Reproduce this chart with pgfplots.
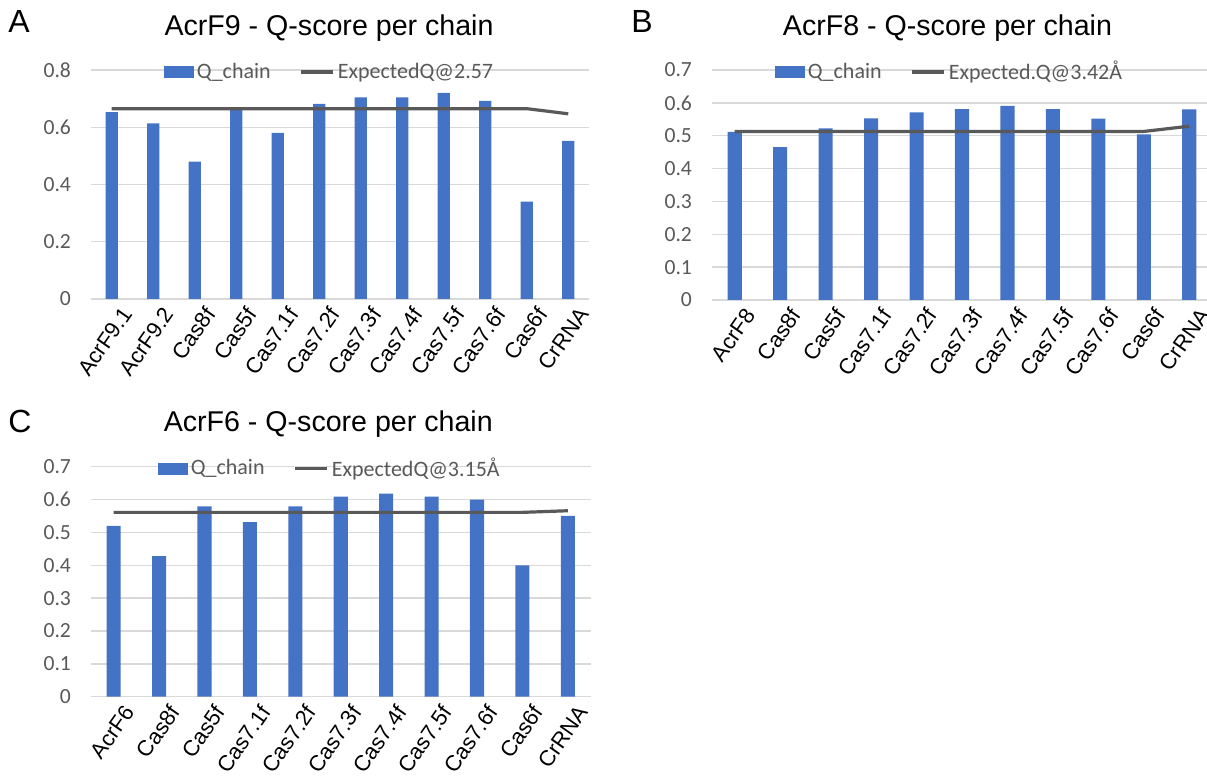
\documentclass[border=0pt]{standalone}
\usepackage{pgfplots}
\pgfplotsset{compat=1.18}
\usepackage{fontspec}
\setmainfont{Liberation Sans}
\newfontfamily\calibri{Carlito}
\definecolor{barblue}{HTML}{4472C4}
\definecolor{linegray}{HTML}{595959}
\definecolor{gridgray}{HTML}{D9D9D9}
\definecolor{tickgray}{HTML}{595959}
\pgfplotsset{
  qstyle/.style={
    scale only axis,
    anchor=south west,
    axis line style={draw=none},
    major tick length=0pt,
    ymajorgrids,
    grid style={gridgray, line width=0.7pt},
    ymin=0,
    /pgf/number format/assume math mode=true,
    yticklabel style={font=\calibri\fontsize{10.8}{12}\selectfont, text=tickgray, anchor=east, xshift=-6.5pt},
    xticklabel style={font=\fontsize{11}{12}\selectfont, text=black, rotate=55, anchor=east, inner sep=0pt, yshift=-9.5pt, xshift=0pt},
    title style={anchor=base, yshift=11.5pt, font=\fontsize{14.3}{16}\selectfont},
    legend columns=2,
    legend style={draw=none, fill=none, anchor=center, yshift=-1pt,
      font=\calibri\fontsize{11}{13}\selectfont, text=tickgray,
      /tikz/every even column/.append style={column sep=13pt},
      nodes={inner sep=1.5pt}},
    clip=false,
  },
  barleg/.style={legend image code/.code={\fill[barblue] (0pt,-3pt) rectangle (15pt,3pt);}},
  lineleg/.style={legend image code/.code={\draw[linegray, line width=1.6pt] (0pt,0pt) -- (16pt,0pt);}},
}
\begin{document}
\begin{tikzpicture}
% Panel A
\begin{axis}[qstyle,
  at={(45.5pt,238.5pt)}, width=249pt, height=114.5pt,
  xmin=-0.5, xmax=11.5, ymax=0.8,
  ytick={0,0.2,0.4,0.6,0.8},
  xtick={0,1,2,3,4,5,6,7,8,9,10,11},
  xticklabels={AcrF9.1,AcrF9.2,Cas8f,Cas5f,Cas7.1f,Cas7.2f,Cas7.3f,Cas7.4f,Cas7.5f,Cas7.6f,Cas6f,CrRNA},
  title={AcrF9 - Q-score per chain},
  title style={at={(axis description cs:0.478,1)}},
  legend style={at={(axis description cs:0.48,1)}},
]
\addplot[ybar, bar width=0.3, fill=barblue, draw=none, barleg] coordinates {
(0,0.653) (1,0.614) (2,0.480) (3,0.667) (4,0.580) (5,0.682) (6,0.704) (7,0.704) (8,0.720) (9,0.692) (10,0.340) (11,0.552)};
\addlegendentry{Q\_chain}
\addplot[linegray, line width=1.6pt, mark=none, lineleg] coordinates {
(0,0.665) (1,0.665) (2,0.665) (3,0.665) (4,0.665) (5,0.665) (6,0.665) (7,0.665) (8,0.665) (9,0.665) (10,0.665) (11,0.647)};
\addlegendentry{ExpectedQ@2.57}
\end{axis}
% Panel B
\begin{axis}[qstyle,
  at={(356pt,238pt)}, width=250pt, height=115pt,
  xmin=-0.5, xmax=10.5, ymax=0.7,
  ytick={0,0.1,0.2,0.3,0.4,0.5,0.6,0.7},
  xtick={0,1,2,3,4,5,6,7,8,9,10},
  xticklabels={AcrF8,Cas8f,Cas5f,Cas7.1f,Cas7.2f,Cas7.3f,Cas7.4f,Cas7.5f,Cas7.6f,Cas6f,CrRNA},
  title={AcrF8 - Q-score per chain},
  title style={at={(axis description cs:0.471,1)}},
  legend style={at={(axis description cs:0.476,1)}},
]
\addplot[ybar, bar width=0.31, fill=barblue, draw=none, barleg] coordinates {
(0,0.512) (1,0.465) (2,0.522) (3,0.553) (4,0.571) (5,0.581) (6,0.591) (7,0.581) (8,0.552) (9,0.504) (10,0.580)};
\addlegendentry{Q\_chain}
\addplot[linegray, line width=1.6pt, mark=none, lineleg] coordinates {
(0,0.513) (1,0.513) (2,0.513) (3,0.513) (4,0.513) (5,0.513) (6,0.513) (7,0.513) (8,0.513) (9,0.513) (10,0.529)};
\addlegendentry{Expected.Q@3.42Å}
\end{axis}
% Panel C
\begin{axis}[qstyle,
  at={(45.5pt,39.65pt)}, width=249.75pt, height=115pt,
  xmin=-0.5, xmax=10.5, ymax=0.7,
  ytick={0,0.1,0.2,0.3,0.4,0.5,0.6,0.7},
  xtick={0,1,2,3,4,5,6,7,8,9,10},
  xticklabels={AcrF6,Cas8f,Cas5f,Cas7.1f,Cas7.2f,Cas7.3f,Cas7.4f,Cas7.5f,Cas7.6f,Cas6f,CrRNA},
  title={AcrF6 - Q-score per chain},
  title style={at={(axis description cs:0.475,1)}},
  legend style={at={(axis description cs:0.479,1)}},
]
\addplot[ybar, bar width=0.31, fill=barblue, draw=none, barleg] coordinates {
(0,0.520) (1,0.428) (2,0.579) (3,0.531) (4,0.579) (5,0.609) (6,0.618) (7,0.609) (8,0.600) (9,0.400) (10,0.550)};
\addlegendentry{Q\_chain}
\addplot[linegray, line width=1.6pt, mark=none, lineleg] coordinates {
(0,0.561) (1,0.561) (2,0.561) (3,0.561) (4,0.561) (5,0.561) (6,0.561) (7,0.561) (8,0.561) (9,0.561) (10,0.566)};
\addlegendentry{ExpectedQ@3.15Å}
\end{axis}
\node[anchor=base west, inner sep=0pt, font=\fontsize{16}{18}\selectfont] at (4pt,371.5pt) {A};
\node[anchor=base west, inner sep=0pt, font=\fontsize{16}{18}\selectfont] at (315.5pt,371.5pt) {B};
\node[anchor=base west, inner sep=0pt, font=\fontsize{16}{18}\selectfont] at (4pt,171.5pt) {C};
\pgfresetboundingbox
\path[use as bounding box] (0pt,0pt) rectangle (603.5pt,388pt);
\end{tikzpicture}
\end{document}
